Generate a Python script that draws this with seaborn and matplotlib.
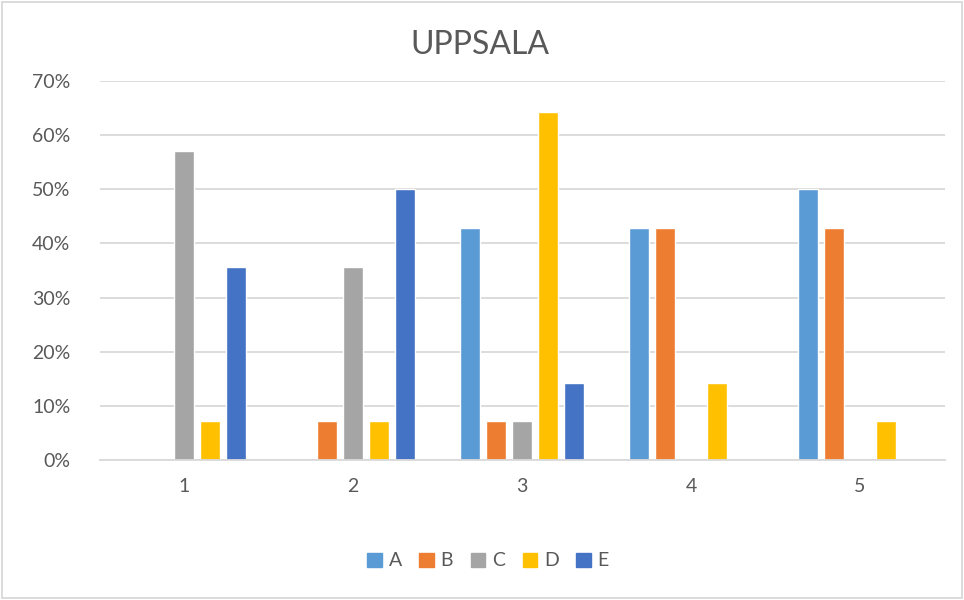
import matplotlib
matplotlib.use("Agg")
import matplotlib.pyplot as plt
import matplotlib.patches as mpatches
import numpy as np
import pandas as pd
import seaborn as sns
from matplotlib.ticker import PercentFormatter

# values (share of answers)
groups = ["1", "2", "3", "4", "5"]
series = ["A", "B", "C", "D", "E"]
vals_A = [0.0, 0.0, 42.86, 42.86, 50.0]
vals_B = [0.0, 7.14, 7.14, 42.86, 42.86]
vals_C = [57.14, 35.71, 7.14, 0.0, 0.0]
vals_D = [7.14, 7.14, 64.29, 14.29, 7.14]
vals_E = [35.71, 50.0, 14.29, 0.0, 0.0]
colors = ["#5B9BD5", "#ED7D31", "#A5A5A5", "#FFC000", "#4472C4"]

df = pd.DataFrame({"A": vals_A, "B": vals_B, "C": vals_C, "D": vals_D, "E": vals_E}, index=groups)
long_df = df.reset_index(names="group").melt(id_vars="group", var_name="serie", value_name="pct")

sns.set_theme(style="white")
plt.rcParams['font.family'] = ['Lato', 'DejaVu Sans']
text_col = "#595959"

fig = plt.figure(figsize=(9.64, 6.0), dpi=100)
ax = fig.add_axes([99.5 / 964, 1 - 460 / 600, 845 / 964, (460 - 81) / 600])

sns.barplot(data=long_df, x="group", y="pct", hue="serie", hue_order=series,
            palette=colors, width=0.77, gap=0.23, saturation=1, ax=ax, legend=False)

ax.set_ylim(0, 70)
ax.set_xlim(-0.5, 4.5)
ax.set_yticks(np.arange(0, 71, 10))
ax.yaxis.set_major_formatter(PercentFormatter(decimals=0))
ax.grid(axis="y", color="#D9D9D9", linewidth=1.3)
ax.set_axisbelow(True)
for side in ["left", "right", "top"]:
    ax.spines[side].set_visible(False)
ax.spines["bottom"].set_color("#D9D9D9")
ax.spines["bottom"].set_linewidth(1.3)
ax.tick_params(axis="both", length=0, colors=text_col, labelsize=14)
ax.tick_params(axis="y", pad=21)
ax.tick_params(axis="x", pad=13)
ax.set_xlabel("")
ax.set_ylabel("")

fig.text(0.5 - 2 / 964, 1 - 45 / 600, "UPPSALA", ha="center", va="center", fontsize=23, color=text_col)

handles = [mpatches.Patch(color=c, label=s) for c, s in zip(colors, series)]
fig.legend(handles=handles, loc="center", bbox_to_anchor=(488 / 964, 1 - 561 / 600), ncol=5,
           frameon=False, fontsize=14, handlelength=0.75, handleheight=0.75,
           handletextpad=0.35, columnspacing=0.9, labelcolor=text_col)

# outer chart border
fig.patches.append(mpatches.Rectangle((0.002, 0.003), 0.996, 0.994, transform=fig.transFigure,
                                      fill=False, edgecolor="#D9D9D9", linewidth=1.3))

fig.savefig("out.png", dpi=100)
